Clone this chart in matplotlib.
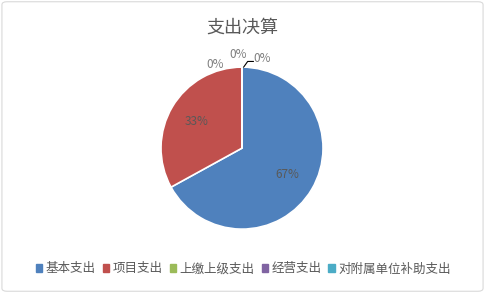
import numpy as np
import matplotlib
matplotlib.use("Agg")
import matplotlib.pyplot as plt
from matplotlib.patches import FancyBboxPatch

plt.rcParams['font.family'] = ['Noto Sans CJK SC', 'DejaVu Sans']

# 支出决算 data (percent)
categories = ["基本支出", "项目支出", "上缴上级支出", "经营支出", "对附属单位补助支出"]
values = [67, 33, 0, 0, 0]
colors = ["#4F81BD", "#C0504D", "#9BBB59", "#8064A2", "#4BACC6"]

fig = plt.figure(figsize=(4.85, 2.93), dpi=100)
fig.patch.set_facecolor("white")
border = FancyBboxPatch((0.004, 0.006), 0.992, 0.988, boxstyle="round,pad=0,rounding_size=0.01",
                        transform=fig.transFigure, fill=False, edgecolor="#D9D9D9", linewidth=0.8)
fig.patches.append(border)

ax = fig.add_axes([0.332, 0.218, 0.334, 0.553])
wedges, _ = ax.pie(values, colors=colors, startangle=90, counterclock=False,
                   wedgeprops=dict(edgecolor="white", linewidth=1.2))
ax.set_aspect("equal")
ax.set_xlim(-1, 1)
ax.set_ylim(-1, 1)

# percent labels inside non-zero slices
for w, v in zip(wedges, values):
    if v > 0:
        ang = np.deg2rad((w.theta1 + w.theta2) / 2)
        ax.text(0.65 * np.cos(ang), 0.65 * np.sin(ang), f"{v}%", ha="center", va="center",
                fontsize=8.5, color="#595959")

# zero-size slices: labels placed outside at the top, last one with a leader line
ax.text(-0.33, 1.03, f"{values[2]}%", ha="center", va="center", fontsize=8.5, color="#7F7F7F")
ax.text(-0.05, 1.16, f"{values[3]}%", ha="center", va="center", fontsize=8.5, color="#7F7F7F")
ax.text(0.25, 1.11, f"{values[4]}%", ha="center", va="center", fontsize=8.5, color="#7F7F7F")
ax.plot([0.02, 0.07, 0.14], [1.0, 1.07, 1.07], color="black", lw=0.8, clip_on=False)

fig.text(0.5, 0.905, "支出决算", ha="center", va="center", fontsize=13, color="#595959")

handles = [plt.Rectangle((0, 0), 1, 1, color=c) for c in colors]
fig.legend(handles, categories, loc="center", bbox_to_anchor=(0.502, 0.082), ncol=5,
           frameon=False, fontsize=9, handlelength=0.5, handleheight=0.5,
           handletextpad=0.3, columnspacing=0.55, labelcolor="#595959")

fig.savefig("out.png", dpi=100)
